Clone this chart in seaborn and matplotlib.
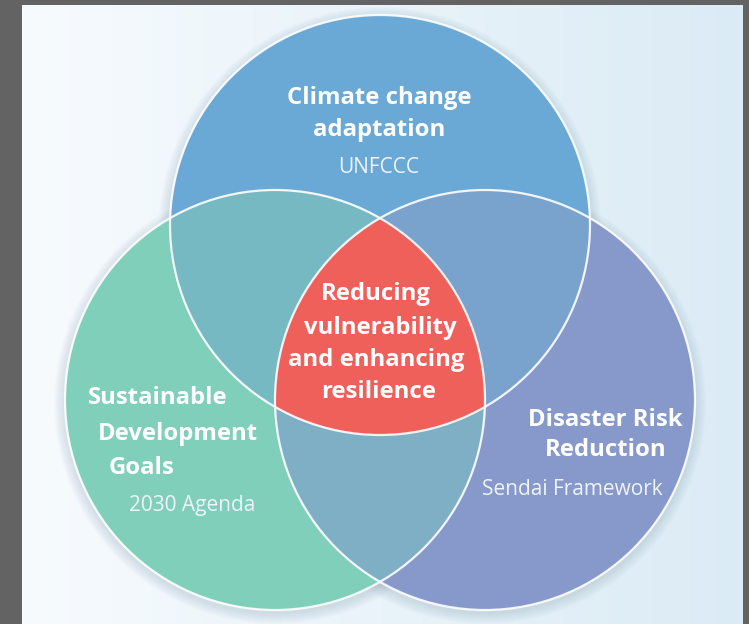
import matplotlib.pyplot as plt
import numpy as np
import seaborn as sns
from matplotlib.colors import LinearSegmentedColormap
from matplotlib.patches import Circle, Polygon

# circles of the venn diagram (pixel space, y down)
circle_names = ["Climate change adaptation", "Sustainable Development Goals", "Disaster Risk Reduction"]
circle_x = [380, 275, 485]
circle_y = [225, 400, 400]
circle_r = [210, 210, 210]
circle_colors = ["#6aa9d5", "#80cfbb", "#8799ca"]

# pairwise overlaps and the common core
overlap_pairs = [(0, 1), (0, 2), (1, 2)]
overlap_colors = ["#77b9c3", "#79a2cd", "#7eafc5"]
core_color = "#f0605a"

# text lines
label_text = ["Climate change", "adaptation", "UNFCCC",
              "Reducing", "vulnerability", "and enhancing", "resilience",
              "Sustainable", "Development", "Goals", "2030 Agenda",
              "Disaster Risk", "Reduction", "Sendai Framework"]
label_x = [379, 379, 379,
           376, 380, 376, 379,
           158, 178, 141, 192,
           605, 606, 572]
label_y = [95, 128, 165,
           292, 325, 358, 390,
           395, 431, 466, 503,
           417, 448, 487]
label_bold = [True, True, False,
              True, True, True, True,
              True, True, True, False,
              True, True, False]


def make_circle(i, **kw):
    return Circle((circle_x[i], circle_y[i]), circle_r[i], **kw)


def lens(i, j):
    """Polygon for the overlap of circle i and circle j"""
    t = np.linspace(0, 2 * np.pi, 1440)
    pts = []
    for a, b in ((i, j), (j, i)):
        px = circle_x[a] + circle_r[a] * np.cos(t)
        py = circle_y[a] + circle_r[a] * np.sin(t)
        inside = (px - circle_x[b]) ** 2 + (py - circle_y[b]) ** 2 <= circle_r[b] ** 2
        pts.append(np.column_stack([px[inside], py[inside]]))
    pts = np.vstack(pts)
    c = pts.mean(axis=0)
    order = np.argsort(np.arctan2(pts[:, 1] - c[1], pts[:, 0] - c[0]))
    return pts[order]


sns.set_theme(style="white")
plt.rcParams['font.family'] = ['Open Sans', 'DejaVu Sans']

fig = plt.figure(figsize=(7.49, 6.24), dpi=100)
fig.patch.set_facecolor("#636363")
ax = fig.add_axes([0, 0, 1, 1])
ax.set_xlim(0, 749)
ax.set_ylim(624, 0)
ax.axis("off")

# light background panel with a soft gradient
bg = LinearSegmentedColormap.from_list("bg", ["#f7fbfe", "#dbebf5"])
ax.imshow(np.linspace(0, 1, 256)[None, :], extent=[22, 743, 624, 5],
          cmap=bg, aspect="auto", zorder=0)

# soft shadow
for i in range(3):
    for k in range(1, 12):
        ax.add_patch(Circle((circle_x[i], circle_y[i] + 3), circle_r[i] + k,
                            fc="#6f8799", ec="none", alpha=0.018, zorder=1))

for i in range(3):
    ax.add_patch(make_circle(i, fc=circle_colors[i], ec="none", zorder=2))

for (i, j), col in zip(overlap_pairs, overlap_colors):
    ax.add_patch(Polygon(lens(i, j), closed=True, fc=col, ec="none", zorder=3))

core = Polygon(lens(1, 2), closed=True, fc=core_color, ec="none", zorder=4)
ax.add_patch(core)
core.set_clip_path(make_circle(0, transform=ax.transData))

for i in range(3):
    ax.add_patch(make_circle(i, fill=False, ec="white", lw=1.6, alpha=0.9, zorder=5))

for txt, x, y, bold in zip(label_text, label_x, label_y, label_bold):
    ax.text(x, y + 2.5, txt, ha="center", va="center", color="white" if bold else "#eef4fa",
            fontsize=17.2 if bold else 15, fontweight="bold" if bold else "normal", zorder=6)

fig.savefig("out.png", dpi=100, facecolor=fig.get_facecolor())
